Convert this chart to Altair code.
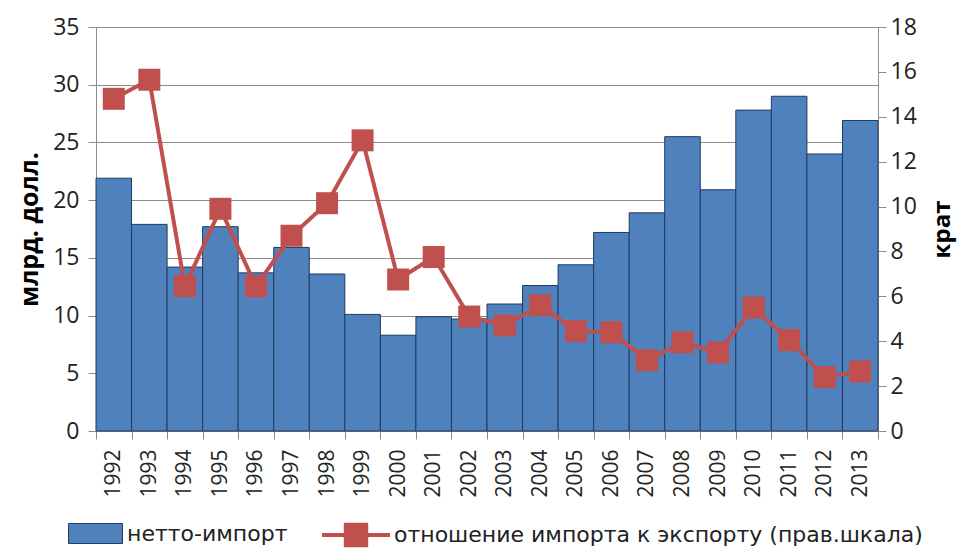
import altair as alt
import pandas as pd

years = [str(y) for y in range(1992, 2014)]
netto_import = [21.9, 17.9, 14.2, 17.7, 13.7, 15.9, 13.6, 10.1, 8.3, 9.9, 9.7,
                11.0, 12.6, 14.4, 17.2, 18.9, 25.5, 20.9, 27.8, 29.0, 24.0, 26.9]
ratio = [14.8, 15.65, 6.45, 9.9, 6.45, 8.7, 10.15, 12.95, 6.75, 7.75, 5.1,
         4.7, 5.6, 4.45, 4.4, 3.15, 3.95, 3.5, 5.5, 4.05, 2.4, 2.65]
series_names = ["нетто-импорт", "отношение импорта к экспорту (прав.шкала)"]

df = pd.DataFrame({
    "year": years,
    "netto": netto_import,
    "ratio": ratio,
    "s_bar": series_names[0],
    "s_line": series_names[1],
})

FONT = "Open Sans"
LFONT = "DejaVu Sans"
BLUE = "#4F81BD"
RED = "#C0504D"
GRID = "#8C8C8C"
TXT = "#222222"

x_enc = alt.X(
    "year:O",
    title=None,
    scale=alt.Scale(paddingInner=0, paddingOuter=0),
    axis=alt.Axis(
        labelAngle=270, labelAlign="right", labelBaseline="middle",
        tickBand="extent", tickSize=8, tickColor=GRID, domainColor=GRID,
        labelFontSize=21, labelFont=FONT, labelColor=TXT, labelPadding=10,
    ),
)

right_axis = alt.Axis(
    orient="right", values=list(range(0, 19, 2)), grid=False,
    tickSize=8, tickColor=GRID, domainColor=GRID,
    labelFontSize=23, labelFont=FONT, labelColor=TXT, labelPadding=4,
    title="крат", titleFont=FONT, titleFontSize=24, titleAngle=270,
    titleFontWeight="bold", titleColor="#000000", titlePadding=38,
)
y_right = alt.Y("ratio:Q", scale=alt.Scale(domain=[0, 18]), axis=right_axis)

bars = alt.Chart(df).mark_bar(stroke="#1F3A60", strokeWidth=1).encode(
    x=x_enc,
    y=alt.Y(
        "netto:Q",
        scale=alt.Scale(domain=[0, 35]),
        axis=alt.Axis(
            values=[0, 5, 10, 15, 20, 25, 30, 35], grid=True, gridColor=GRID,
            tickSize=8, tickColor=GRID, domainColor=GRID,
            labelFontSize=23, labelFont=FONT, labelColor=TXT, labelPadding=9,
            title="млрд. долл.", titleFont=FONT, titleFontSize=25,
            titleFontWeight="bold", titleColor="#000000", titlePadding=10,
        ),
    ),
    fill=alt.Fill(
        "s_bar:N",
        scale=alt.Scale(domain=[series_names[0]], range=[BLUE]),
        legend=alt.Legend(
            title=None, orient="none", legendX=-28, legendY=479,
            symbolType="M-1,-0.37H1V0.37H-1Z", symbolSize=2916,
            symbolStrokeColor="#1F3A60", symbolStrokeWidth=1,
            labelFont=LFONT, labelFontSize=22, labelColor=TXT, labelOffset=4,
            labelLimit=800, padding=0,
        ),
    ),
)

line = alt.Chart(df).mark_line(strokeWidth=4).encode(
    x=x_enc,
    y=y_right,
    stroke=alt.Stroke(
        "s_line:N",
        scale=alt.Scale(domain=[series_names[1]], range=[RED]),
        legend=alt.Legend(
            title=None, orient="none", legendX=224, legendY=472,
            symbolType="M-1,0H1M-0.3,-0.3H0.3V0.3H-0.3Z", symbolSize=4624,
            symbolFillColor=RED, symbolStrokeWidth=4,
            labelFont=LFONT, labelFontSize=22, labelColor=TXT, labelOffset=2,
            labelLimit=800, padding=0,
        ),
    ),
)

points = alt.Chart(df).mark_point(shape="square", filled=True, size=484, opacity=1).encode(
    x=x_enc,
    y=y_right,
    color=alt.value(RED),
)

chart = alt.layer(bars, line + points).resolve_scale(
    y="independent", fill="independent", stroke="independent"
).properties(
    width=782, height=404,
    autosize=alt.AutoSizeParams(type="none"),
    padding={"left": 88, "top": 19, "right": 84, "bottom": 118},
).configure_view(stroke=None)

chart.save("out.html", embed_options={"renderer": "svg", "actions": False})
